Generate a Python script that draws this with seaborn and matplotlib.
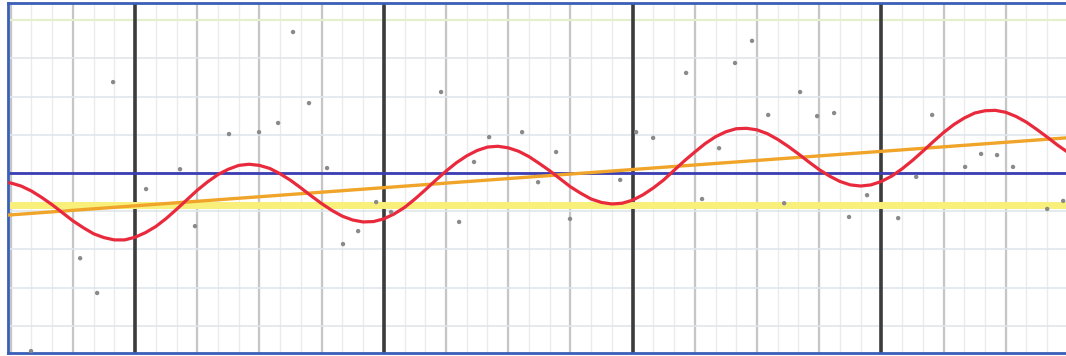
# Seasonal series with trend, reference lines and noisy observations
import pandas as pd
import seaborn as sns
import matplotlib.pyplot as plt

# seasonal curve, read every half month starting at month 5
seasonal = [-0.29, -0.25, -0.26, -0.34, -0.47, -0.64, -0.83, -1.04, -1.25, -1.43,
            -1.59, -1.69, -1.75, -1.75, -1.68, -1.56, -1.40, -1.19, -0.95, -0.70,
            -0.45, -0.23, -0.04, 0.10, 0.20, 0.23, 0.20, 0.12, -0.02, -0.19,
            -0.39, -0.60, -0.80, -0.98, -1.13, -1.23, -1.28, -1.27, -1.20, -1.07,
            -0.90, -0.68, -0.44, -0.19, 0.05, 0.27, 0.45, 0.59, 0.68, 0.70,
            0.66, 0.57, 0.43, 0.25, 0.06, -0.15, -0.36, -0.53, -0.68, -0.77,
            -0.81, -0.79, -0.71, -0.57, -0.39, -0.18, 0.07, 0.32, 0.55, 0.77,
            0.95, 1.08, 1.16, 1.17, 1.13, 1.03, 0.88, 0.70, 0.50, 0.29,
            0.09, -0.08, -0.22, -0.31, -0.34, -0.31, -0.22, -0.08, 0.11, 0.33,
            0.57, 0.82, 1.06, 1.27, 1.44, 1.57, 1.63, 1.64, 1.59, 1.48,
            1.33, 1.14, 0.94, 0.73, 0.54, 0.37, 0.24]
months = [5 + 0.5 * i for i in range(len(seasonal))]

# linear trend end points
trend_x = [5, 58]
trend_y = [-1.135, 0.963]

# reference levels
baseline = 0.0
mean_level = -0.84
upper_level = 4.0

# observations
obs_x = [10.94, 19.62, 20.39, 18.90, 17.98, 16.53, 14.17, 21.26, 12.53, 14.89,
         9.35, 10.17, 6.98, 22.03, 26.76, 29.08, 30.67, 28.35, 32.31, 36.17,
         36.99, 38.58, 23.63, 22.76, 24.35, 27.63, 31.44, 32.98, 35.40, 39.35,
         41.76, 40.94, 44.08, 42.54, 44.90, 45.72, 40.17, 50.45, 52.81, 53.58,
         52.04, 54.35, 49.68, 43.31, 47.31, 46.44, 48.81, 56.00, 56.77]
obs_y = [2.38, 3.69, 1.83, 1.31, 1.07, 1.02, 0.10, 0.13, -0.42, -1.39,
         -2.23, -3.14, -4.66, -1.86, 2.12, 0.94, 1.07, 0.29, 0.55, 1.07,
         0.92, 2.62, -0.76, -1.52, -1.02, -1.28, -0.24, -1.20, -0.18, -0.68,
         3.46, 2.88, 2.12, 1.52, 1.49, 1.57, 0.65, 1.52, 0.50, 0.47,
         0.16, 0.16, -0.10, -0.79, -0.58, -1.15, -1.18, -0.94, -0.73]

curve = pd.DataFrame({"month": months, "value": seasonal})
trend = pd.DataFrame({"month": trend_x, "value": trend_y})
obs = pd.DataFrame({"month": obs_x, "value": obs_y})

sns.set_style("white")
fig = plt.figure(figsize=(10.66, 3.56), dpi=100)
ax = fig.add_axes([8 / 1066, 3 / 356, 1067 / 1066, 350 / 356])

ax.set_xlim(5.87, 57.34)
ax.set_ylim(-4.71, 4.45)

# grid: monthly, quarterly, yearly
for m in range(6, 58):
    ax.axvline(m, color="#ebebeb", lw=1, zorder=0)
for m in range(6, 58, 3):
    ax.axvline(m, color="#c6c6c6", lw=1.6, zorder=0)
for m in range(12, 58, 12):
    ax.axvline(m, color="#3c3c3c", lw=2.6, zorder=1)
for v in range(-4, 4):
    ax.axhline(v, color="#e0e6ec", lw=1.2, zorder=0)
ax.axhline(upper_level, color="#e4f0cc", lw=1.5, zorder=0)

ax.axhline(mean_level, color="#f8f07a", lw=5, zorder=2)
ax.axhline(baseline, color="#3b3db3", lw=2, zorder=2)

sns.lineplot(data=trend, x="month", y="value", color="#f0a52a", lw=2.4, ax=ax, zorder=3)
sns.lineplot(data=curve, x="month", y="value", color="#e82a3c", lw=2.3, ax=ax, zorder=4)
sns.scatterplot(data=obs, x="month", y="value", color="#8a8a8a", s=10, edgecolor="none", ax=ax, zorder=5)

ax.set_xticks([])
ax.set_yticks([])
ax.set_xlabel("")
ax.set_ylabel("")
for side in ["left", "top", "bottom"]:
    ax.spines[side].set_color("#3a5fb8")
    ax.spines[side].set_linewidth(2)
ax.spines["right"].set_visible(False)

fig.savefig("out.png", dpi=100)
